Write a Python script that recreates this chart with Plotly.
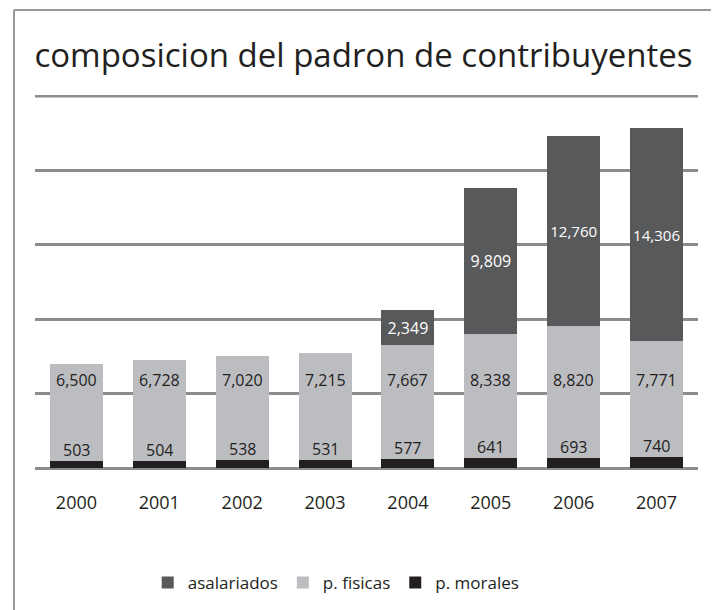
import plotly.graph_objects as go

years = ["2000", "2001", "2002", "2003", "2004", "2005", "2006", "2007"]
p_morales = [503, 504, 538, 531, 577, 641, 693, 740]
p_fisicas = [6500, 6728, 7020, 7215, 7667, 8338, 8820, 7771]
asalariados = [0, 0, 0, 0, 2349, 9809, 12760, 14306]

FONT = "Open Sans"
c_asal = "#58595b"
c_fis = "#bcbdc0"
c_mor = "#231f20"
c_grid = "#8c8c8c"

fig = go.Figure()
fig.add_bar(x=years, y=p_morales, name="p. morales", marker_color=c_mor,
            marker_line_width=0, hoverinfo="skip")
fig.add_bar(x=years, y=p_fisicas, name="p. fisicas", marker_color=c_fis,
            marker_line_width=0, hoverinfo="skip")
fig.add_bar(x=years, y=asalariados, name="asalariados", marker_color=c_asal,
            marker_line_width=0, hoverinfo="skip",
            text=[f"{v:,}" if v else "" for v in asalariados],
            textposition="inside", insidetextanchor="middle",
            textfont=dict(color="white", size=16, family=FONT),
            textangle=0)

# labels: morales just above the thin band, fisicas on a common row
# (category index used for x so the numeric-looking years aren't read as positions)
for i, (m, f) in enumerate(zip(p_morales, p_fisicas)):
    fig.add_annotation(x=i, y=m, text=f"{m:,}", showarrow=False, yanchor="bottom",
                       yshift=-2, font=dict(size=16, color=c_mor, family=FONT))
    fig.add_annotation(x=i, y=5900, text=f"{f:,}", showarrow=False, yanchor="middle",
                       font=dict(size=16, color=c_mor, family=FONT))

# plotly skips the gridline right at the top edge, draw it by hand
fig.add_shape(type="line", xref="paper", yref="y", x0=0, x1=1, y0=25000, y1=25000,
              line=dict(color=c_grid, width=3), layer="below")

# frame lines (top and left) of the original chart box
fig.add_shape(type="line", xref="paper", yref="paper", x0=-0.0317, x1=1.1,
              y0=1.228, y1=1.228, line=dict(color="#999999", width=2))
fig.add_shape(type="line", xref="paper", yref="paper", x0=-0.0317, x1=-0.0317,
              y0=1.228, y1=-0.4, line=dict(color="#999999", width=2))

# page body has an 8px margin, so the figure is a bit smaller and offset
fig.update_layout(
    barmode="stack",
    bargap=0.36,
    width=711, height=602,
    margin=dict(l=27, r=21, t=87, b=142, autoexpand=False),
    paper_bgcolor="white", plot_bgcolor="white",
    font=dict(family=FONT, color="#231f20"),
    title=dict(text="composicion del padron de contribuyentes", x=0.5, xanchor="center",
               y=1 - 47 / 602, yanchor="middle", font=dict(size=33, family=FONT, color="#231f20")),
    showlegend=True,
    legend=dict(orientation="h", x=0.17, xanchor="left", y=-0.308, yanchor="middle",
                traceorder="reversed", font=dict(size=17, family=FONT, color="#231f20")),
    hovermode=False,
)
fig.update_xaxes(type="category", range=[-0.5, len(years) - 0.5], showgrid=False, showline=False,
                 ticks="outside", ticklen=18, tickcolor="rgba(0,0,0,0)",
                 tickfont=dict(size=18, family=FONT))
fig.update_yaxes(range=[0, 25060], tickvals=[5000, 10000, 15000, 20000, 25000], showgrid=True,
                 gridcolor=c_grid, gridwidth=3,
                 showticklabels=False, zeroline=True, zerolinecolor=c_grid, zerolinewidth=3,
                 showline=False)

fig.write_html("out.html")
